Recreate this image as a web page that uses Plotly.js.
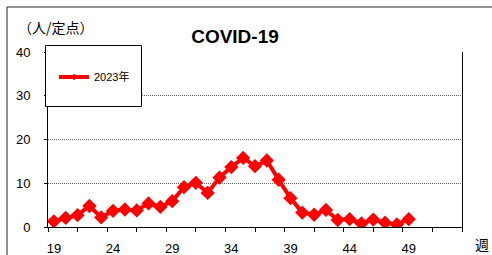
<!DOCTYPE html>
<html>
<head>
<meta charset="utf-8">
<script src="https://cdn.plot.ly/plotly-3.0.1.min.js"></script>
<style>html,body{margin:0;padding:0;background:#fff;}#chart{width:492px;height:255px;}</style>
</head>
<body>
<div id="chart"></div>
<script>
const weeks = [19,20,21,22,23,24,25,26,27,28,29,30,31,32,33,34,35,36,37,38,39,40,41,42,43,44,45,46,47,48,49];
const values2023 = [1.3,2.1,2.7,4.8,2.2,3.7,4.0,3.8,5.4,4.6,5.9,9.1,10.1,7.8,11.3,13.7,15.8,13.9,15.2,10.8,6.6,3.3,2.8,3.9,1.6,1.8,0.8,1.7,1.0,0.6,1.8];
const xLabels = [19,24,29,34,39,44,49];
const yTicks = [0,10,20,30,40];
const seriesName = '2023年';

const W = 492, H = 255, L = 48, R = 30, T = 52, B = 28;
const pw = W - L - R, ph = H - T - B;
const px = v => (v - L) / pw;
const py = v => (H - B - v) / ph;

const minorTicks = [];
for (let t = 18.5; t <= 53.5 + 1e-9; t += 2.5) minorTicks.push(t);

const font = 'Liberation Sans, Arial, Noto Sans CJK JP, sans-serif';
const jfont = 'Noto Sans CJK JP, sans-serif';

const traces = [
  {
    x: weeks, y: values2023, name: seriesName, type: 'scatter', mode: 'lines+markers',
    line: {color: '#FF0000', width: 4},
    marker: {symbol: 'diamond', size: 11, color: '#FF0000'},
    xaxis: 'x', yaxis: 'y', showlegend: false
  },
  {
    x: [null], y: [null], name: seriesName, type: 'scatter', mode: 'lines+markers',
    line: {color: '#FF0000', width: 4},
    marker: {symbol: 'diamond', size: 5, color: '#FF0000'},
    xaxis: 'x', yaxis: 'y', showlegend: true
  },
  {
    x: [18.5, 53.5], y: [null, null], xaxis: 'x2', yaxis: 'y', showlegend: false, hoverinfo: 'skip', mode: 'lines'
  }
];

const layout = {
  width: W, height: H,
  margin: {l: L, r: R, t: T, b: B, pad: 0},
  paper_bgcolor: '#fff', plot_bgcolor: '#fff',
  showlegend: true,
  title: {text: 'COVID-19', font: {family: font, size: 19, color: '#000', weight: 'bold'},
          xref: 'paper', x: (235 - L) / pw, xanchor: 'center', yref: 'container', y: 1 - 36 / H, yanchor: 'middle'},
  xaxis: {
    range: [18.5, 53.5], tickvals: xLabels, ticktext: xLabels.map(String), ticks: '',
    showgrid: false, zeroline: false, showline: true, linecolor: '#000', linewidth: 1,
    tickfont: {family: font, size: 13, color: '#000'}, ticklabelstandoff: 9, fixedrange: true
  },
  xaxis2: {
    overlaying: 'x', range: [18.5, 53.5], tickvals: minorTicks, ticks: 'outside', ticklen: 4, tickcolor: '#000',
    showticklabels: false, showgrid: false, zeroline: false, showline: false, side: 'bottom'
  },
  yaxis: {
    range: [0, 40], tickvals: yTicks, ticks: 'outside', ticklen: 3, tickcolor: '#000',
    showgrid: true, gridcolor: '#666', griddash: '1px,1px', gridwidth: 1,
    zeroline: false, showline: true, mirror: true, linecolor: '#000', linewidth: 1,
    tickfont: {family: font, size: 13, color: '#000'}, ticklabelstandoff: 11
  },
  legend: {
    x: px(54), y: py(77), xanchor: 'left', yanchor: 'middle', bgcolor: 'rgba(0,0,0,0)', borderwidth: 0,
    font: {family: font, size: 11, color: '#000'}, itemwidth: 30
  },
  shapes: [
    {type: 'rect', xref: 'paper', yref: 'paper', x0: px(45.5), x1: px(141.5), y0: py(106.5), y1: py(45.5),
     fillcolor: '#fff', line: {color: '#000', width: 1}, layer: 'above'},
    {type: 'rect', xref: 'paper', yref: 'paper', x0: px(7), x1: px(520), y0: py(290), y1: py(7),
     fillcolor: 'rgba(0,0,0,0)', line: {color: '#222', width: 1}, layer: 'below'}
  ],
  annotations: [
    {text: '（人/定点）', xref: 'paper', yref: 'paper', x: px(56), y: py(27), xanchor: 'center', yanchor: 'middle',
     showarrow: false, font: {family: jfont, size: 14, color: '#000'}},
    {text: '週', xref: 'paper', yref: 'paper', x: px(482), y: py(244), xanchor: 'center', yanchor: 'middle',
     showarrow: false, font: {family: jfont, size: 14, color: '#000'}}
  ]
};

Plotly.newPlot('chart', traces, layout, {staticPlot: true, displayModeBar: false});
</script>
</body>
</html>
